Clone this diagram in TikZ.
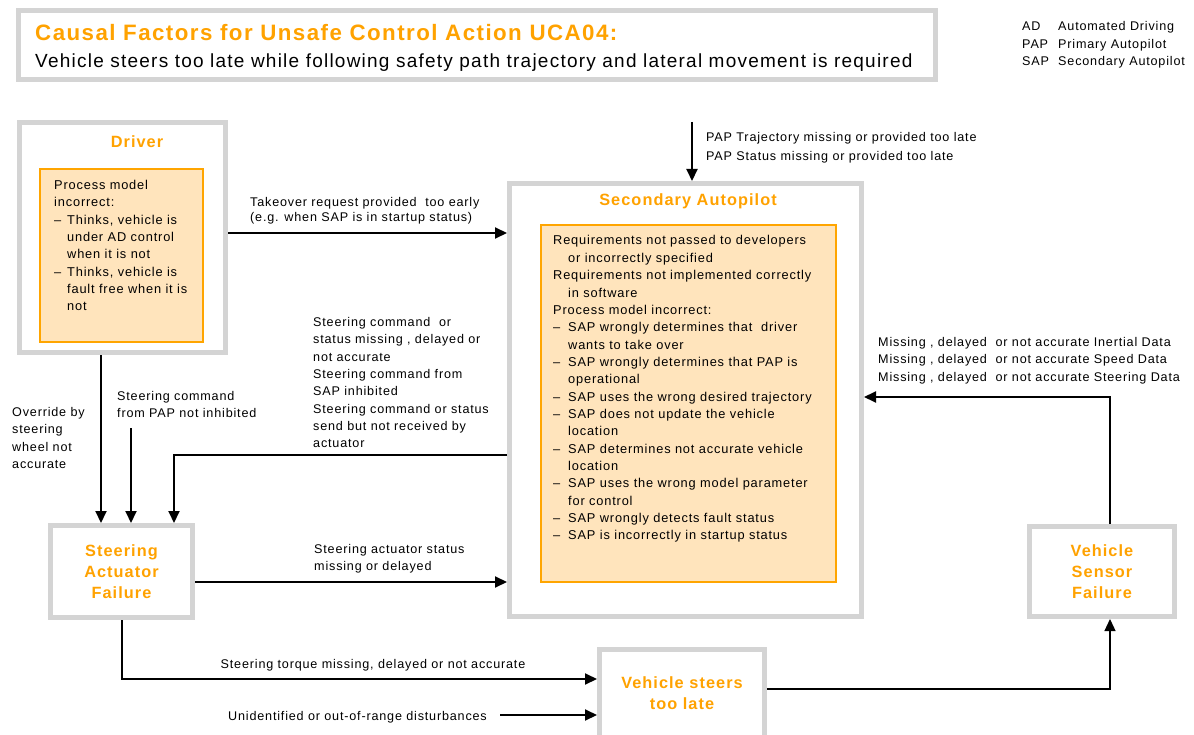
\documentclass[tikz,border=0pt]{standalone}
\usepackage{fontspec}
\setmainfont{Liberation Sans}[LetterSpace=6.5]
\usetikzlibrary{arrows.meta,calc}
\definecolor{boxgray}{HTML}{D4D4D4}
\definecolor{tOrange}{HTML}{FFA200}
\definecolor{pmFill}{HTML}{FFE4BC}
\definecolor{pmLine}{HTML}{FFA500}
\newcommand\DashItem[1]{\makebox[13pt][l]{--}#1}
\newcommand\ContLine[1]{\hspace*{13pt}#1}
\newcommand\SDashItem[1]{\makebox[15pt][l]{--}#1}
\newcommand\SContLine[1]{\hspace*{15pt}#1}
\begin{document}
\begin{tikzpicture}[x=1pt,y=-1pt,
  graybox/.style={draw=boxgray,line width=5pt,fill=white,rectangle,inner sep=0pt},
  pmbox/.style={draw=pmLine,line width=2pt,fill=pmFill,rectangle,inner sep=0pt},
  ttl/.style={font=\fontsize{16.3}{21}\selectfont\bfseries,text=tOrange,align=center},
  body/.style={font=\fontsize{12.8}{17.35}\selectfont,align=left,inner sep=0pt,anchor=north west},
  lbl/.style={font=\fontsize{12.6}{17.35}\selectfont,align=left,inner sep=0pt,anchor=north west},
  arr/.style={line width=2pt,-{Triangle[length=12pt,width=11pt]}},
]
\path[use as bounding box, fill=white] (0,0) rectangle (1194,735);

% title
\node[graybox, minimum width=917pt, minimum height=69pt] (titlebox) at (477,45) {};
\node[anchor=base west, inner sep=0pt, font=\fontsize{22.3}{26}\selectfont\bfseries, text=tOrange] (title) at (35,41) {Causal Factors for Unsafe Control Action UCA04:};
\node[anchor=base west, inner sep=0pt, font=\fontsize{19}{23}\selectfont] (subtitle) at (35,68) {Vehicle steers too late while following safety path trajectory and lateral movement is required};

% legend
\node[lbl, anchor=base west] (lgA) at (1022,30.5) {AD};
\node[lbl, anchor=base west] (lgB) at (1058,30.5) {Automated Driving};
\node[lbl, anchor=base west] (lgC) at (1022,48.5) {PAP};
\node[lbl, anchor=base west] (lgD) at (1058,48.5) {Primary Autopilot};
\node[lbl, anchor=base west] (lgE) at (1022,65.5) {SAP};
\node[lbl, anchor=base west] (lgF) at (1058,65.5) {Secondary Autopilot};

% driver
\node[graybox, minimum width=206pt, minimum height=230pt] (driver) at (122.5,237.5) {};
\node[ttl] (drvttl) at (137,142) {Driver};
\node[pmbox, minimum width=163pt, minimum height=173pt] (drvpm) at (121.5,255.5) {};
\node[body] (drvtxt) at (54,180) {Process model\\incorrect:\\\DashItem{Thinks, vehicle is}\\\ContLine{under AD control}\\\ContLine{when it is not}\\\DashItem{Thinks, vehicle is}\\\ContLine{fault free when it is}\\\ContLine{not}};

% secondary autopilot
\node[graybox, minimum width=352pt, minimum height=433pt] (sap) at (685.5,400) {};
\node[ttl] (sapttl) at (688,201) {Secondary Autopilot};
\node[pmbox, minimum width=295pt, minimum height=357pt] (sappm) at (688.5,403.5) {};
\node[body] (saptxt) at (553,235.5) {Requirements not passed to developers\\\SContLine{or incorrectly specified}\\Requirements not implemented correctly\\\SContLine{in software}\\Process model incorrect:\\\SDashItem{SAP wrongly determines that\ \ driver}\\\SContLine{wants to take over}\\\SDashItem{SAP wrongly determines that PAP is}\\\SContLine{operational}\\\SDashItem{SAP uses the wrong desired trajectory}\\\SDashItem{SAP does not update the vehicle}\\\SContLine{location}\\\SDashItem{SAP determines not accurate vehicle}\\\SContLine{location}\\\SDashItem{SAP uses the wrong model parameter}\\\SContLine{for control}\\\SDashItem{SAP wrongly detects fault status}\\\SDashItem{SAP is incorrectly in startup status}};

% other boxes
\node[graybox, ttl, minimum width=142pt, minimum height=92pt] (sa) at (121.5,571.5) {Steering\\Actuator\\Failure};
\node[graybox, ttl, minimum width=165pt, minimum height=88pt] (vs) at (682,693.5) {Vehicle steers\\too late};
\node[graybox, ttl, minimum width=145pt, minimum height=90pt] (sen) at (1102,571.5) {Vehicle\\Sensor\\Failure};

% labels
\node[lbl, font=\fontsize{12.6}{19}\selectfont] (paplbl) at (706,132) {PAP Trajectory missing or provided too late\\PAP Status missing or provided too late};
\node[lbl, font=\fontsize{12.6}{15.5}\selectfont] (tklbl) at (250,197) {Takeover request provided\ \ too early\\(e.g. when SAP is in startup status)};
\node[lbl] (cmdlbl) at (313,317) {Steering command\ \ or\\status missing , delayed or\\not accurate\\Steering command from\\SAP inhibited\\Steering command or status\\send but not received by\\actuator};
\node[lbl] (ovlbl) at (12,407) {Override by\\steering\\wheel not\\accurate};
\node[lbl] (pinhlbl) at (117,391) {Steering command\\from PAP not inhibited};
\node[lbl] (salbl) at (314,544) {Steering actuator status\\missing or delayed};
\node[lbl, anchor=base] (tqlbl) at (373,668.5) {Steering torque missing, delayed or not accurate};
\node[lbl, anchor=base west] (dist) at (228,720.5) {Unidentified or out-of-range disturbances};
\node[lbl] (senlbl) at (878,337) {Missing , delayed\ \ or not accurate Inertial Data\\Missing , delayed\ \ or not accurate Speed Data\\Missing , delayed\ \ or not accurate Steering Data};

% connectors
\coordinate (papsrc) at (692,122);
\draw[arr] (papsrc) -- (papsrc |- sap.north);
\coordinate (tky) at (0,233);
\draw[arr] (driver.east |- tky) -- (sap.west |- tky);
\draw[arr] (101,0 |- driver.south) -- (101,0 |- sa.north);
\coordinate (pinhsrc) at (131,428);
\draw[arr] (pinhsrc) -- (pinhsrc |- sa.north);
\coordinate (cmdy) at (0,455);
\draw[arr] (sap.west |- cmdy) -| (174,0 |- sa.north);
\coordinate (say) at (0,582);
\draw[arr] (sa.east |- say) -- (sap.west |- say);
\coordinate (tqy) at (0,679);
\draw[arr] (sa.south) |- (vs.west |- tqy);
\coordinate (distsrc) at (500,715);
\draw[arr] (distsrc) -- (vs.west |- distsrc);
\coordinate (vsy) at (0,689);
\draw[line width=1.2pt,-{Triangle[length=12pt,width=11pt]}] (vs.east |- vsy) -| (1110,0 |- sen.south);
\coordinate (seny) at (0,397);
\draw[arr] (1110,0 |- sen.north) |- (sap.east |- seny);
\end{tikzpicture}
\end{document}
